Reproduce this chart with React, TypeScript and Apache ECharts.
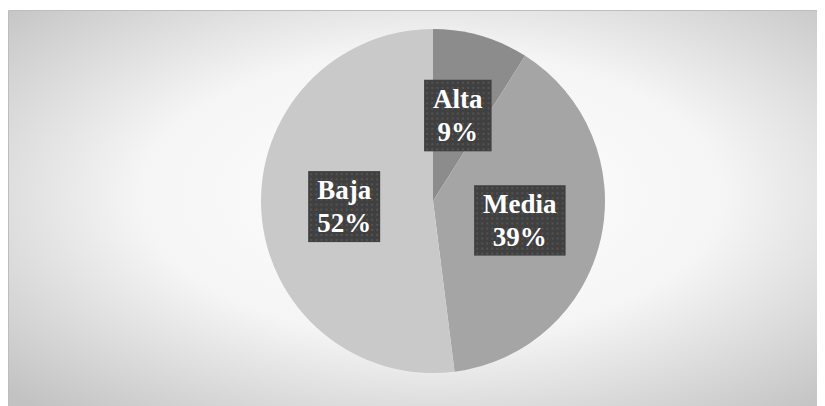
import React, { useEffect, useRef } from "react";
import * as echarts from "echarts";

const categories = ["Alta", "Media", "Baja"];
const values = [9, 39, 52];
const sliceColors = ["#8c8c8c", "#a5a5a5", "#c9c9c9"];
const boxWidths = [66, 91, 71];

function dotted(w: number, h: number): string {
  const c = document.createElement("canvas");
  c.width = w;
  c.height = h;
  const ctx = c.getContext("2d");
  if (!ctx) return "";
  ctx.fillStyle = "#404040";
  ctx.fillRect(0, 0, w, h);
  ctx.fillStyle = "#535353";
  for (let y = 2; y < h; y += 5) {
    for (let x = 2; x < w; x += 5) {
      ctx.fillRect(x, y, 2, 2);
    }
  }
  return c.toDataURL();
}

export default function App() {
  const ref = useRef<HTMLDivElement>(null);
  useEffect(() => {
    if (!ref.current) return;
    const chart = echarts.init(ref.current, undefined, { renderer: "svg" });
    const data = categories.map((name, i) => ({
      name,
      value: values[i],
      itemStyle: { color: sliceColors[i] },
      label: { backgroundColor: { image: dotted(boxWidths[i], 70) } },
    }));
    chart.setOption({
      animation: false,
      graphic: [
        {
          type: "rect",
          z: -10,
          silent: true,
          shape: { x: 0.5, y: 2.5, width: 813, height: 400 },
          style: {
            fill: new echarts.graphic.RadialGradient(0.52, 0.46, 0.72, [
              { offset: 0, color: "#ffffff" },
              { offset: 0.5, color: "#f5f5f5" },
              { offset: 1, color: "#c2c2c2" },
            ]),
            stroke: "#bdbdbd",
            lineWidth: 1,
          },
        },
      ],
      series: [
        {
          type: "pie",
          center: [425, 193],
          radius: [0, 172],
          startAngle: 90,
          clockwise: true,
          data,
          label: {
            show: true,
            position: "inside",
            formatter: (p: any) => `${p.name}\n${p.value}%`,
            color: "#ffffff",
            fontFamily: "'Liberation Serif', 'Times New Roman', serif",
            fontWeight: "bold",
            fontSize: 27,
            lineHeight: 33,
            padding: [3, 9, 3, 9],
            shadowColor: "rgba(0,0,0,0.55)",
            shadowBlur: 5,
            shadowOffsetX: 3,
            shadowOffsetY: 3,
          },
          labelLine: { show: false },
          emphasis: { disabled: true },
        },
      ],
    });
    return () => chart.dispose();
  }, []);
  return <div ref={ref} style={{ width: 817, height: 398 }} />;
}
